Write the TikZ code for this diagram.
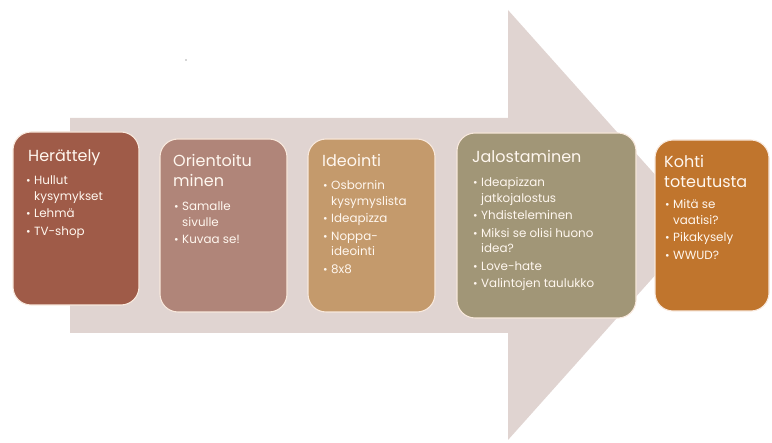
\documentclass[tikz,border=0pt]{standalone}
\usepackage{fontspec}
\setmainfont{Poppins}
\definecolor{arrowc}{HTML}{E0D4D1}
\definecolor{c1}{HTML}{9F5B48}
\definecolor{c2}{HTML}{B08579}
\definecolor{c3}{HTML}{C49A6C}
\definecolor{c4}{HTML}{A19677}
\definecolor{c5}{HTML}{C0752D}
\definecolor{edgec}{HTML}{F8E8DC}
\definecolor{txtc}{HTML}{FFF7EF}
\newcommand{\itm}[1]{\makebox[8pt][l]{\raisebox{0.3pt}{\fontsize{11}{11}\selectfont•}}#1}
\newcommand{\cnt}[1]{\hspace*{8pt}#1}
\newcommand{\toplines}[1]{\begin{tabular}[t]{@{}l@{}}#1\end{tabular}}
\tikzset{
  stagebox/.style={draw=edgec, line width=1.1pt, rounded corners=18pt},
  titletxt/.style={anchor=base west, inner sep=0pt, text=txtc, font=\fontsize{16}{20}\selectfont},
  bodytxt/.style={anchor=base west, inner sep=0pt, text=txtc, font=\fontsize{11.9}{15.5}\selectfont},
}
\begin{document}
\begin{tikzpicture}[x=1pt,y=-1pt]
\useasboundingbox (0,0) rectangle (772,443);
% big arrow
\fill[arrowc] (70,118) -- (508,118) -- (508,10) -- (700,225) -- (508,440) -- (508,333) -- (70,333) -- cycle;
\fill[black!70] (186,60) circle (0.6);
% boxes
\draw[stagebox, fill=c1] (13,132) rectangle (139,305);
\draw[stagebox, fill=c2] (160,139) rectangle (287,312);
\draw[stagebox, fill=c3] (308,139) rectangle (435,312);
\draw[stagebox, fill=c4] (457,133) rectangle (636,318);
\draw[stagebox, fill=c5] (655,140) rectangle (769,311);
% texts
\node[titletxt] (t1) at (28,162) {Herättely};
\node[bodytxt] (b1) at (26,185) {\toplines{\itm{Hullut}\\\cnt{kysymykset}\\[2pt]\itm{Lehmä}\\[2pt]\itm{TV-shop}}};
\node[titletxt] (t2) at (173,167) {\toplines{Orientoitu\\minen}};
\node[bodytxt] (b2) at (174,211) {\toplines{\itm{Samalle}\\\cnt{sivulle}\\[2pt]\itm{Kuvaa se!}}};
\node[titletxt] (t3) at (322,167) {Ideointi};
\node[bodytxt] (b3) at (323,190) {\toplines{\itm{Osbornin}\\\cnt{kysymyslista}\\[2pt]\itm{Ideapizza}\\[2pt]\itm{Noppa-}\\\cnt{ideointi}\\[2pt]\itm{8x8}}};
\node[titletxt] (t4) at (472,163) {Jalostaminen};
\node[bodytxt] (b4) at (473,187) {\toplines{\itm{Ideapizzan}\\\cnt{jatkojalostus}\\[2pt]\itm{Yhdisteleminen}\\[2pt]\itm{Miksi se olisi huono}\\\cnt{idea?}\\[2pt]\itm{Love-hate}\\[2pt]\itm{Valintojen taulukko}}};
\node[titletxt] (t5) at (664,168) {\toplines{Kohti\\toteutusta}};
\node[bodytxt] (b5) at (665,209) {\toplines{\itm{Mitä se}\\\cnt{vaatisi?}\\[2pt]\itm{Pikakysely}\\[2pt]\itm{WWUD?}}};
\end{tikzpicture}
\end{document}
